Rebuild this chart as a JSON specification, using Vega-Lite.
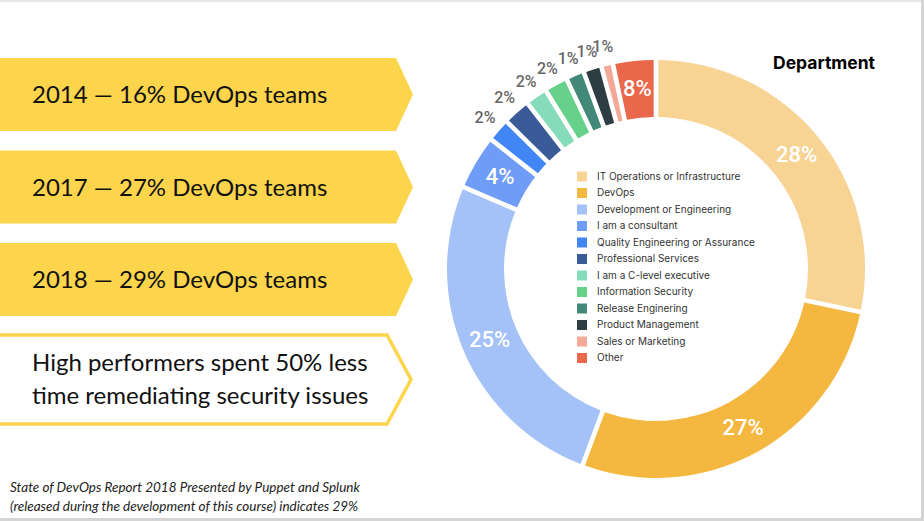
{
  "$schema": "https://vega.github.io/schema/vega-lite/v6.json",
  "width": 924,
  "height": 521,
  "padding": 0,
  "autosize": {"type": "none"},
  "background": "white",
  "config": {"view": {"stroke": null}},
  "datasets": {
    "dept": [
      {"idx": 1, "department": "IT Operations or Infrastructure", "pct": "28%", "share": 28.3},
      {"idx": 2, "department": "DevOps", "pct": "27%", "share": 27.4},
      {"idx": 3, "department": "Development or Engineering", "pct": "25%", "share": 25.7},
      {"idx": 4, "department": "I am a consultant", "pct": "4%", "share": 4.2},
      {"idx": 5, "department": "Quality Engineering or Assurance", "pct": "2%", "share": 1.8},
      {"idx": 6, "department": "Professional Services", "pct": "2%", "share": 2.1},
      {"idx": 7, "department": "I am a C-level executive", "pct": "2%", "share": 1.7},
      {"idx": 8, "department": "Information Security", "pct": "2%", "share": 1.8},
      {"idx": 9, "department": "Release Enginering", "pct": "1%", "share": 1.4},
      {"idx": 10, "department": "Product Management", "pct": "1%", "share": 1.4},
      {"idx": 11, "department": "Sales or Marketing", "pct": "1%", "share": 0.9},
      {"idx": 12, "department": "Other", "pct": "8%", "share": 3.3}
    ],
    "banners": [
      {"key": "a", "label": "2014 — 16% DevOps teams"},
      {"key": "b", "label": "2017 — 27% DevOps teams"},
      {"key": "c", "label": "2018 — 29% DevOps teams"}
    ],
    "highlight": [{"label": "High performers spent 50% less\ntime remediating security issues"}],
    "note": [{"label": "State of DevOps Report 2018 Presented by Puppet and Splunk\n(released during the development of this course) indicates 29%"}],
    "heading": [{"label": "Department"}]
  },
  "layer": [
    {
      "data": {"name": "banners"},
      "mark": {"type": "point", "shape": "M-3,-36.5L396,-36.5L413,0L396,36.5L-3,36.5Z", "size": 4, "filled": true, "fill": "#FDD54C", "opacity": 1, "strokeWidth": 0},
      "encoding": {
        "x": {"value": 0},
        "y": {"field": "key", "type": "ordinal", "scale": {"type": "point", "range": [94.5, 279.5], "padding": 0}, "axis": null}
      }
    },
    {
      "data": {"name": "banners"},
      "mark": {"type": "text", "font": "Lato", "fontSize": 24, "color": "#111", "align": "left", "baseline": "middle", "dy": 1.5},
      "encoding": {
        "x": {"value": 32},
        "y": {"field": "key", "type": "ordinal"},
        "text": {"field": "label"}
      }
    },
    {
      "data": {"name": "highlight"},
      "mark": {"type": "point", "shape": "M-5,-44.5L387,-44.5L411,0L387,44.5L-5,44.5Z", "size": 4, "filled": false, "stroke": "#FDD54C", "strokeWidth": 3.5, "opacity": 1},
      "encoding": {"x": {"value": 0}, "y": {"value": 379.5}}
    },
    {
      "data": {"name": "highlight"},
      "mark": {"type": "text", "font": "Lato", "fontSize": 24, "color": "#111", "align": "left", "baseline": "middle", "lineBreak": "\n", "lineHeight": 33},
      "encoding": {"x": {"value": 32}, "y": {"value": 364}, "text": {"field": "label"}}
    },
    {
      "data": {"name": "note"},
      "mark": {"type": "text", "font": "Lato", "fontSize": 13.5, "fontStyle": "italic", "color": "#222", "align": "left", "baseline": "middle", "lineBreak": "\n", "lineHeight": 19},
      "encoding": {"x": {"value": 10}, "y": {"value": 488}, "text": {"field": "label"}}
    },
    {
      "data": {"name": "dept"},
      "transform": [
        {"stack": "share", "groupby": [], "sort": [{"field": "idx", "order": "ascending"}], "as": ["s0", "s1"]}
      ],
      "mark": {"type": "arc", "radius": 209, "radius2": 152, "padAngle": 0.018},
      "encoding": {
        "x": {"value": 656},
        "y": {"value": 269},
        "theta": {"field": "s0", "type": "quantitative", "scale": {"domain": [0, 100]}},
        "theta2": {"field": "s1"},
        "order": {"field": "idx", "type": "quantitative"},
        "color": {
          "field": "department",
          "type": "nominal",
          "scale": {
            "domain": ["IT Operations or Infrastructure", "DevOps", "Development or Engineering", "I am a consultant", "Quality Engineering or Assurance", "Professional Services", "I am a C-level executive", "Information Security", "Release Enginering", "Product Management", "Sales or Marketing", "Other"],
            "range": ["#F7D394", "#F4B73F", "#A4C2F7", "#6F9CF6", "#4285F4", "#3A5A98", "#84DCBA", "#66D18A", "#43897A", "#2E3D44", "#F4A898", "#E9674A"]
          },
          "legend": {
            "orient": "none",
            "legendX": 577,
            "legendY": 171.5,
            "title": null,
            "symbolType": "square",
            "symbolSize": 100,
            "symbolStrokeWidth": 0,
            "symbolOpacity": 1,
            "labelFont": "Inter",
            "labelFontSize": 10,
            "labelColor": "#333",
            "labelLimit": 260,
            "labelOffset": 10,
            "rowPadding": 6.5,
            "padding": 0
          }
        }
      }
    },
    {
      "data": {"name": "dept"},
      "transform": [
        {"stack": "share", "groupby": [], "sort": [{"field": "idx", "order": "ascending"}], "as": ["s0", "s1"]},
        {"calculate": "(datum.s0 + datum.s1) / 2", "as": "mid"},
        {"filter": "datum.share > 3"}
      ],
      "mark": {"type": "text", "radius": 181, "font": "Roboto", "fontSize": 22, "fontWeight": 500, "color": "white", "align": "center", "baseline": "middle"},
      "encoding": {
        "x": {"value": 656},
        "y": {"value": 269},
        "theta": {"field": "mid", "type": "quantitative"},
        "text": {"field": "pct"}
      }
    },
    {
      "data": {"name": "dept"},
      "transform": [
        {"stack": "share", "groupby": [], "sort": [{"field": "idx", "order": "ascending"}], "as": ["s0", "s1"]},
        {"calculate": "(datum.s0 + datum.s1) / 2", "as": "mid"},
        {"filter": "datum.share <= 3"}
      ],
      "mark": {"type": "text", "radius": 228, "font": "Roboto", "fontSize": 16, "fontWeight": 500, "color": "#666", "align": "center", "baseline": "middle"},
      "encoding": {
        "x": {"value": 656},
        "y": {"value": 269},
        "theta": {"field": "mid", "type": "quantitative"},
        "text": {"field": "pct"}
      }
    },
    {
      "data": {"name": "heading"},
      "mark": {"type": "text", "font": "Inter", "fontSize": 17.5, "fontWeight": 700, "color": "#000", "align": "left", "baseline": "middle"},
      "encoding": {"x": {"value": 773}, "y": {"value": 64}, "text": {"field": "label"}}
    },
    {
      "data": {"values": [{}]},
      "mark": {"type": "rule", "color": "#e6e6e6", "strokeWidth": 2},
      "encoding": {"x": {"value": 0}, "x2": {"value": 924}, "y": {"value": 1}}
    },
    {
      "data": {"values": [{}]},
      "mark": {"type": "rule", "color": "#d4d4d4", "strokeWidth": 3},
      "encoding": {"x": {"value": 922.5}, "y": {"value": 0}, "y2": {"value": 521}}
    },
    {
      "data": {"values": [{}]},
      "mark": {"type": "rule", "color": "#d4d4d4", "strokeWidth": 3},
      "encoding": {"x": {"value": 0}, "x2": {"value": 924}, "y": {"value": 519.5}}
    }
  ]
}
